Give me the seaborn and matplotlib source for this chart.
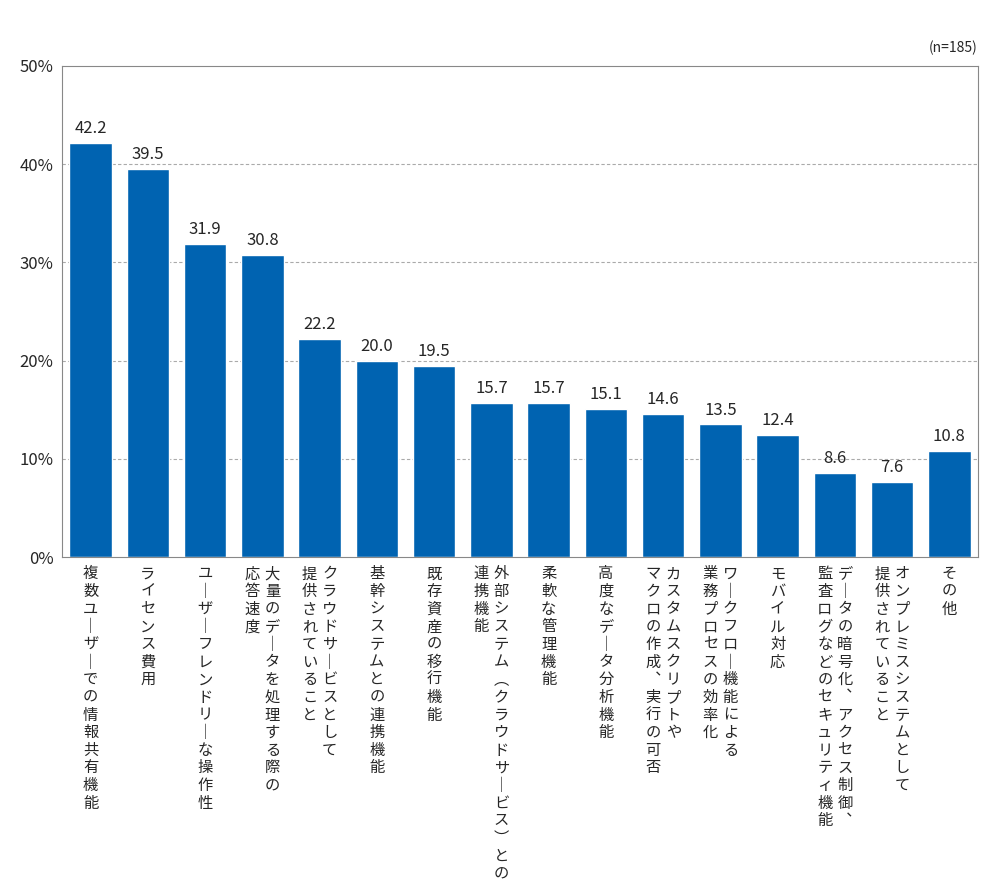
import matplotlib
matplotlib.use("Agg")
import matplotlib.pyplot as plt
import seaborn as sns
import pandas as pd

CATEGORIES = [
    ["複数ユーザーでの情報共有機能"],
    ["ライセンス費用"],
    ["ユーザーフレンドリーな操作性"],
    ["大量のデータを処理する際の", "応答速度"],
    ["クラウドサービスとして", "提供されていること"],
    ["基幹システムとの連携機能"],
    ["既存資産の移行機能"],
    ["外部システム(クラウドサービス)との", "連携機能"],
    ["柔軟な管理機能"],
    ["高度なデータ分析機能"],
    ["カスタムスクリプトや", "マクロの作成、実行の可否"],
    ["ワークフロー機能による", "業務プロセスの効率化"],
    ["モバイル対応"],
    ["データの暗号化、アクセス制御、", "監査ログなどのセキュリティ機能"],
    ["オンプレミスシステムとして", "提供されていること"],
    ["その他"],
]
VALUES = [42.2, 39.5, 31.9, 30.8, 22.2, 20.0, 19.5, 15.7, 15.7, 15.1, 14.6, 13.5, 12.4, 8.6, 7.6, 10.8]
Y_TICKS = [0, 10, 20, 30, 40, 50]

sns.set_style("white")
plt.rcParams["font.family"] = ["Noto Sans CJK JP", "DejaVu Sans"]

VERT = {"ー": "｜", "(": "︵", ")": "︶", "、": "︑"}


def vertical(s):
    return "\n".join(VERT.get(c, c) for c in s)


df = pd.DataFrame({"x": [str(i) for i in range(len(VALUES))], "v": VALUES})

fig = plt.figure(figsize=(10, 8.86), dpi=100)
ax = fig.add_axes([0.062, 1 - 557 / 886, 0.916, (557 - 66) / 886])
sns.barplot(data=df, x="x", y="v", color="#0063b1", width=0.74, saturation=1, ax=ax)
ax.set_ylim(0, 50)
ax.set_xlim(-0.5, len(VALUES) - 0.5)
ax.set_yticks(Y_TICKS)
ax.set_yticklabels([f"{t}%" for t in Y_TICKS], fontsize=12)
ax.set_xticks([])
ax.set_xlabel("")
ax.set_ylabel("")
for t in Y_TICKS[1:-1]:
    ax.axhline(t, color="#aaaaaa", linestyle=(0, (3, 2)), linewidth=0.8, zorder=0)
ax.set_axisbelow(True)
for sp in ax.spines.values():
    sp.set_color("#888888")
    sp.set_linewidth(0.8)
ax.tick_params(axis="y", length=0, pad=6)

for i, v in enumerate(VALUES):
    ax.text(i, v + 0.6, f"{v:.1f}", ha="center", va="bottom", fontsize=12)

for i, lines in enumerate(CATEGORIES):
    n = len(lines)
    for j, line in enumerate(lines):
        dx = ((n - 1) / 2 - j) * 14.5
        ax.annotate(vertical(line), xy=(i, 0), xycoords=("data", "axes fraction"),
                    xytext=(dx, -6), textcoords="offset points",
                    ha="center", va="top", fontsize=11, linespacing=1.05,
                    annotation_clip=False)

fig.text(0.978, 1 - 48 / 886, "(n=185)", ha="right", va="center", fontsize=10)

fig.savefig("out.png", dpi=100)
